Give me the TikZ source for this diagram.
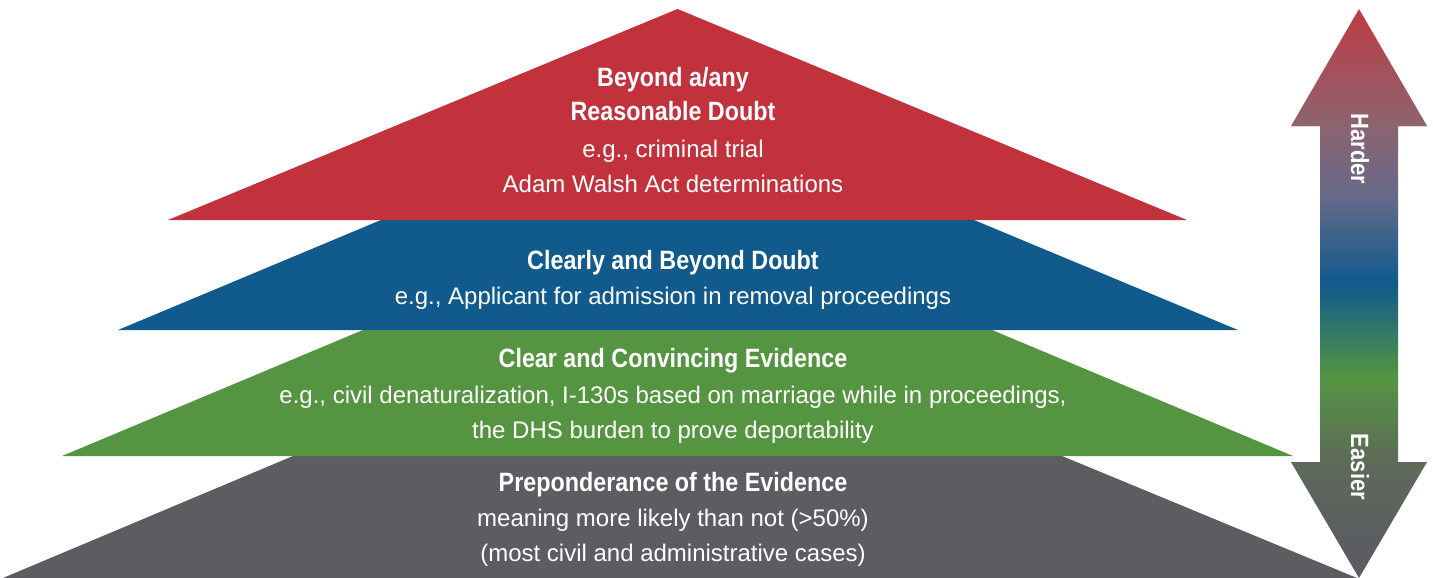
\documentclass[tikz,border=0pt]{standalone}
\usepackage{fontspec}
\setmainfont{Liberation Sans}[BoldFeatures={FakeStretch=0.88}]
\usepackage{tikz}
\usepackage{xcolor}
\definecolor{doubtred}{HTML}{C1323D}
\definecolor{doubtblue}{HTML}{105A8C}
\definecolor{cleargreen}{HTML}{559542}
\definecolor{prepgray}{HTML}{5C5D60}
\definecolor{arrowtop}{HTML}{BF3B43}
\definecolor{arrowmauve}{HTML}{8C6470}
\definecolor{arrowslate}{HTML}{63698A}
\definecolor{arrowolive}{HTML}{5D6A5A}
\tikzset{
 layer/.style={draw=none},
 head/.style={text=white, anchor=base, inner sep=0pt, font=\fontsize{26.5}{30}\selectfont\bfseries},
 info/.style={text=white, anchor=base, inner sep=0pt, font=\fontsize{24}{30}\selectfont},
 side/.style={text=white, inner sep=0pt, rotate=-90, font=\fontsize{25}{30}\selectfont\bfseries},
 }

\begin{document}
\begin{tikzpicture}[x=1pt, y=-1pt]
        \useasboundingbox (0,0) rectangle (1433,578);
        \fill[layer, prepgray] (293,456) -- (1062,456) -- (1357,578) -- (3,578) -- cycle;
        \fill[layer, cleargreen] (363,330) -- (992,330) -- (1293,456) -- (62,456) -- cycle;
        \fill[layer, doubtblue] (381,220) -- (974,220) -- (1238,330) -- (118,330) -- cycle;
        \fill[layer, doubtred] (677.5,9) -- (1187,220) -- (168,220) -- cycle;
        \begin{scope}
        \clip (1359,9) -- (1427,126) -- (1398,126) -- (1398,462) -- (1427,462) -- (1359,578)
              -- (1291,462) -- (1320,462) -- (1320,126) -- (1291,126) -- cycle;
        \shade[top color=arrowtop, bottom color=arrowmauve] (1285,8) rectangle (1433,126.5);
        \shade[top color=arrowmauve, bottom color=arrowslate] (1285,126) rectangle (1433,200.5);
        \shade[top color=arrowslate, bottom color=doubtblue] (1285,200) rectangle (1433,283.5);
        \shade[top color=doubtblue, bottom color=cleargreen] (1285,283) rectangle (1433,378.5);
        \shade[top color=cleargreen, bottom color=arrowolive] (1285,378) rectangle (1433,462.5);
        \shade[top color=arrowolive, bottom color=prepgray] (1285,462) rectangle (1433,540.5);
        \fill[prepgray] (1285,540) rectangle (1433,579);
        \end{scope}
        \node[side] (harder) at (1360, 149) {Harder};
        \node[side] (easier) at (1360, 467) {Easier};
        \node[head] (red1) at (673, 86) {Beyond a/any};
        \node[head] (red2) at (673, 121) {Reasonable Doubt};
        \node[info] (red3) at (673, 157) {e.g., criminal trial};
        \node[info] (red4) at (673, 192) {Adam Walsh Act determinations};
        \node[head] (blue1) at (673, 269) {Clearly and Beyond Doubt};
        \node[info] (blue2) at (673, 304) {e.g., Applicant for admission in removal proceedings};
        \node[head] (green1) at (673, 367) {Clear and Convincing Evidence};
        \node[info] (green2) at (673, 403) {e.g., civil denaturalization, I-130s based on marriage while in proceedings,};
        \node[info] (green3) at (673, 438) {the DHS burden to prove deportability};
        \node[head] (gray1) at (673, 491) {Preponderance of the Evidence};
        \node[info] (gray2) at (673, 526) {meaning more likely than not (>50\%)};
        \node[info] (gray3) at (673, 561) {(most civil and administrative cases)};
    \end{tikzpicture}
\end{document}
